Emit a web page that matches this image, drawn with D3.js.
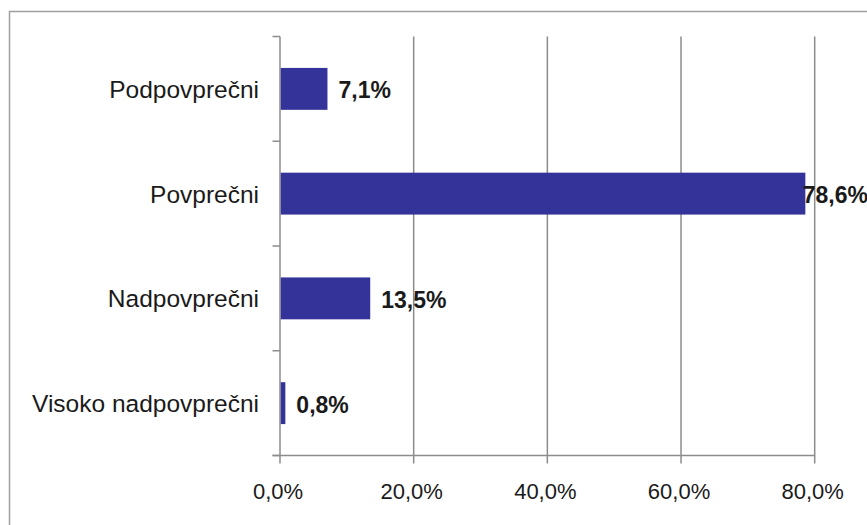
<!DOCTYPE html>
<html>
<head>
<meta charset="utf-8">
<script src="https://cdn.jsdelivr.net/npm/d3@7"></script>
<style>
  html, body { margin: 0; padding: 0; background: #fff; }
  svg { display: block; }
  text { font-family: "Liberation Sans", Arial, sans-serif; fill: #1a1a1a; }
</style>
</head>
<body>
<svg id="chart" width="867" height="525"></svg>
<script>
const categories = ["Podpovprečni", "Povprečni", "Nadpovprečni", "Visoko nadpovprečni"];
const values = [7.1, 78.6, 13.5, 0.8];
const valueLabels = ["7,1%", "78,6%", "13,5%", "0,8%"];
const xTicks = [0, 20, 40, 60, 80];
const xTickLabels = ["0,0%", "20,0%", "40,0%", "60,0%", "80,0%"];

const svg = d3.select("#chart");
const W = 867, H = 525;

// outer chart border
svg.append("rect")
  .attr("x", 9.5).attr("y", 11.5)
  .attr("width", W + 10).attr("height", H + 10)
  .attr("fill", "#fff").attr("stroke", "#a0a0a0").attr("stroke-width", 1.5);

const plotTop = 36.5, plotBottom = 455.5;
const x = d3.scaleLinear().domain([0, 80]).range([280, 814.7]);
const y = d3.scaleBand().domain(categories).range([plotTop, plotBottom]).paddingInner(0.6).paddingOuter(0.3);
const yEdges = d3.range(categories.length + 1).map(i => plotTop + i * (plotBottom - plotTop) / categories.length);

const axisColor = "#8c8c8c";
const grid = svg.append("g");
// vertical gridlines
grid.selectAll("line.g").data(xTicks.filter(t => t > 0)).join("line")
  .attr("x1", d => x(d)).attr("x2", d => x(d))
  .attr("y1", plotTop).attr("y2", plotBottom + 8)
  .attr("stroke", axisColor).attr("stroke-width", 1.5);

// y axis line
grid.append("line").attr("x1", x(0)).attr("x2", x(0)).attr("y1", plotTop).attr("y2", plotBottom + 8)
  .attr("stroke", axisColor).attr("stroke-width", 1.5);
// y ticks (between categories)
grid.selectAll("line.yt").data(yEdges).join("line")
  .attr("x1", 272.5).attr("x2", x(0)).attr("y1", d => d).attr("y2", d => d)
  .attr("stroke", axisColor).attr("stroke-width", 1.5);
// x axis line
grid.append("line").attr("x1", 272.5).attr("x2", x(80)).attr("y1", plotBottom).attr("y2", plotBottom)
  .attr("stroke", axisColor).attr("stroke-width", 1.5);

// bars
svg.selectAll("rect.bar").data(values).join("rect")
  .attr("class", "bar")
  .attr("x", x(0) + 0.75)
  .attr("y", (d, i) => y(categories[i]))
  .attr("width", d => x(d) - x(0) - 0.75)
  .attr("height", y.bandwidth())
  .attr("fill", "#333399");

// value labels
const gap = 11, labelW = 64;
svg.selectAll("text.val").data(values).join("text")
  .attr("class", "val")
  .attr("font-size", 23).attr("font-weight", "bold")
  .attr("x", d => (x(d) + gap + labelW > 867) ? 868 : x(d) + gap)
  .attr("text-anchor", d => (x(d) + gap + labelW > 867) ? "end" : "start")
  .attr("y", (d, i) => y(categories[i]) + y.bandwidth() / 2 + 9.5)
  .text((d, i) => valueLabels[i]);

// category labels
svg.selectAll("text.cat").data(categories).join("text")
  .attr("class", "cat")
  .attr("font-size", 24.5)
  .attr("text-anchor", "end")
  .attr("x", 259)
  .attr("y", d => y(d) + y.bandwidth() / 2 + 9)
  .text(d => d);

// x tick labels
svg.selectAll("text.xt").data(xTicks).join("text")
  .attr("class", "xt")
  .attr("font-size", 22)
  .attr("text-anchor", "middle")
  .attr("x", d => x(d) - 2)
  .attr("y", 499)
  .text((d, i) => xTickLabels[i]);
</script>
</body>
</html>
